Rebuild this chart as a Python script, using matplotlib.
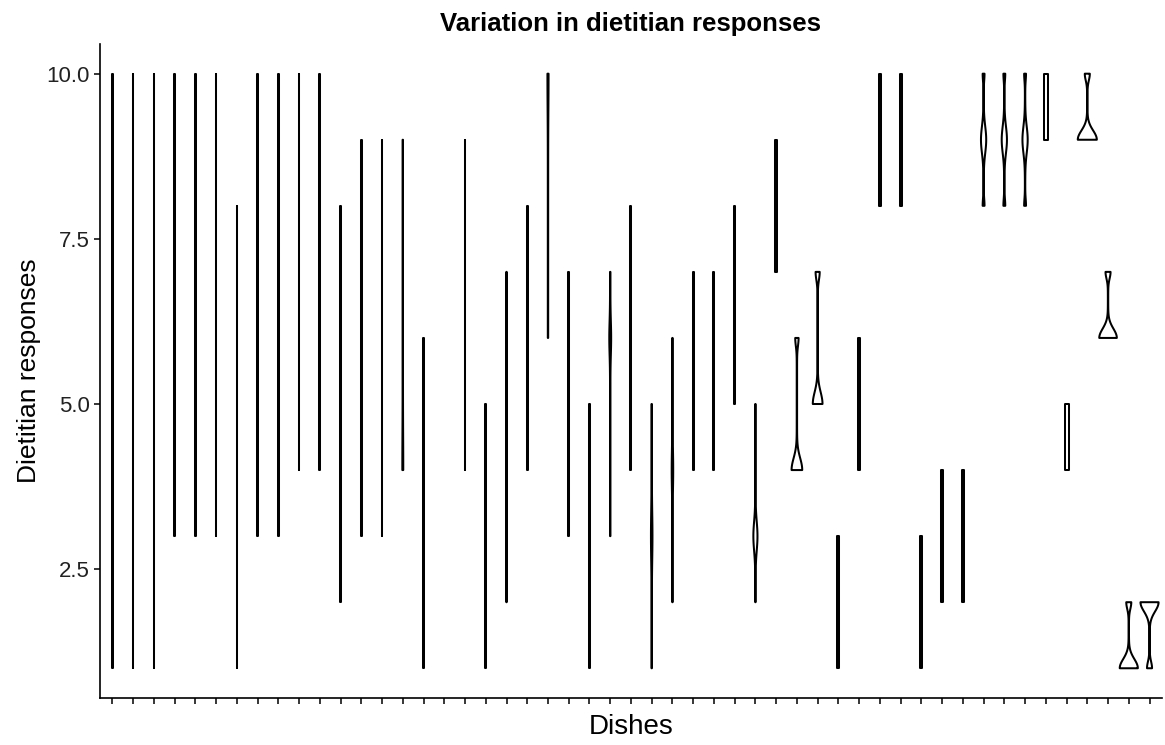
import numpy as np
import matplotlib.pyplot as plt

plt.rcParams['font.family'] = ['Liberation Sans', 'DejaVu Sans']

# response range of each dish (nan = no violin drawn)
low = [1, 1, 1, 3, 3, 3, 1, 3, 3, 4, 4, 2, 3, 3, 4, 1, np.nan, 4, 1, 2,
       4, 6, 3, 1, 3, 4, 1, 2, 4, 4, 5, 2, 7, 4, 5, 1, 4, 8, 8, 1,
       2, 2, 8, 8, 8, 9, 4, 9, 6, 1, 1]
high = [10, 10, 10, 10, 10, 10, 8, 10, 10, 10, 10, 8, 9, 9, 9, 6, np.nan, 9, 5, 7,
        8, 10, 7, 5, 7, 8, 5, 6, 7, 7, 8, 5, 9, 6, 7, 3, 6, 10, 10, 3,
        4, 4, 10, 10, 10, 10, 5, 10, 7, 2, 2]

# density peaks per dish (1-based index): (response, relative height, spread)
peaks = {
    15: [(4, 0.03, 0.5)],
    20: [(4.5, 0.03, 0.4)],
    22: [(10, 0.04, 0.5)],
    25: [(6, 0.08, 0.25)],
    27: [(3, 0.06, 0.35)],
    28: [(4, 0.06, 0.3)],
    32: [(3, 0.2, 0.22)],
    34: [(4, 0.55, 0.18), (6, 0.16, 0.12)],
    35: [(5, 0.5, 0.18), (7, 0.2, 0.12)],
    43: [(9, 0.26, 0.2), (8, 0.08, 0.1), (10, 0.08, 0.1)],
    44: [(9, 0.26, 0.2), (8, 0.08, 0.1), (10, 0.08, 0.1)],
    45: [(9, 0.26, 0.2), (8, 0.08, 0.1), (10, 0.08, 0.1)],
    48: [(9, 1.0, 0.14), (10, 0.25, 0.1)],
    49: [(6, 0.92, 0.14), (7, 0.25, 0.1)],
    50: [(1, 0.95, 0.14), (2, 0.25, 0.1)],
    51: [(2, 0.95, 0.14), (1, 0.25, 0.1)],
}
# dishes drawn with a wider flat body
flat = {23: 0.07, 30: 0.06, 31: 0.06}

n = len(low)
fig = plt.figure(figsize=(11.65, 7.45), dpi=100)
ax = fig.add_axes([0.0858, 0.0631, 0.9116, 0.8779])

for i in range(n):
    lo, hi = low[i], high[i]
    if np.isnan(lo):
        continue
    pos = i + 1
    y = np.linspace(lo, hi, 400)
    if pos in peaks:
        dens = np.full_like(y, 0.02)
        for v, h, s in peaks[pos]:
            dens += h * np.exp(-0.5 * ((y - v) / s) ** 2)
    else:
        dens = np.full_like(y, flat.get(pos, 0.22 / (hi - lo)))
    w = 0.45 * dens
    xs = np.concatenate([pos - w, (pos + w)[::-1]])
    ys = np.concatenate([y, y[::-1]])
    ax.fill(xs, ys, facecolor='white', edgecolor='black', linewidth=1.45, joinstyle='round')

ax.set_xlim(0.4, n + 0.6)
ax.set_ylim(0.55, 10.45)
ax.set_xticks(np.arange(1, n + 1))
ax.set_xticklabels([])
ax.set_yticks([2.5, 5.0, 7.5, 10.0])
ax.set_yticklabels(['2.5', '5.0', '7.5', '10.0'])
ax.tick_params(axis='both', length=4, width=1.1, colors='black', labelsize=16,
               labelcolor='#222222')
for side in ['top', 'right']:
    ax.spines[side].set_visible(False)
for side in ['left', 'bottom']:
    ax.spines[side].set_linewidth(1.2)

ax.set_xlabel('Dishes', fontsize=20)
ax.set_ylabel('Dietitian responses', fontsize=19)
ax.set_title('Variation in dietitian responses', fontsize=18.5, fontweight='bold', pad=9)

fig.savefig('out.png', dpi=100)
